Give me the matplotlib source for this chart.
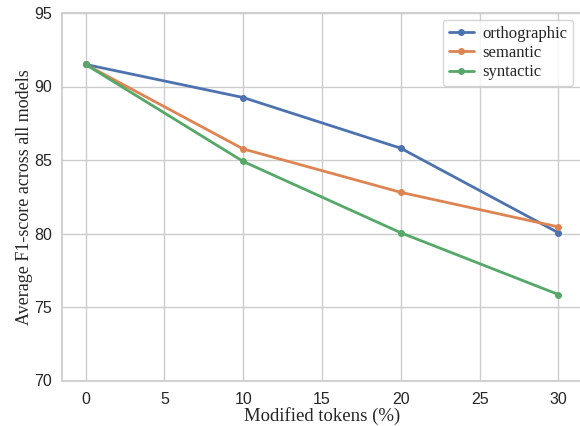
import matplotlib
matplotlib.use("Agg")
import matplotlib.pyplot as plt
import seaborn as sns

# data
modified = [0, 10, 20, 30]
orthographic = [91.5, 89.25, 85.8, 80.05]
semantic = [91.5, 85.75, 82.8, 80.45]
syntactic = [91.5, 84.9, 80.05, 75.85]

sns.set_theme(style="whitegrid")
plt.rcParams['font.family'] = ['Liberation Serif', 'DejaVu Serif']

W, H = 580, 426
fig = plt.figure(figsize=(W / 100, H / 100), dpi=100)
# axes box in pixels: left 62, right ~582, top 13, bottom 380.5
ax = fig.add_axes([62 / W, 1 - 380.5 / H, (582 - 62) / W, (380.5 - 13) / H])

ax.plot(modified, orthographic, marker='o', markersize=4, linewidth=2, label='orthographic')
ax.plot(modified, semantic, marker='o', markersize=4, linewidth=2, label='semantic')
ax.plot(modified, syntactic, marker='o', markersize=4, linewidth=2, label='syntactic')

ax.set_ylim(70, 95)
ax.set_xlabel('Modified tokens (%)', fontsize=13.5, labelpad=0)
ax.set_ylabel('Average F1-score across all models', fontsize=13, labelpad=1)
ax.tick_params(axis='x', labelsize=11.5, pad=2)
ax.tick_params(axis='y', labelsize=11.5, pad=1)
for lbl in ax.get_xticklabels() + ax.get_yticklabels():
    lbl.set_fontfamily('Liberation Sans')
ax.legend(loc='upper right', fontsize=12, labelspacing=0.2,
          borderaxespad=0.3, handlelength=1.5, handletextpad=0.5,
          borderpad=0.35, bbox_to_anchor=(0.992, 0.995))

plt.savefig('out.png', dpi=100)
